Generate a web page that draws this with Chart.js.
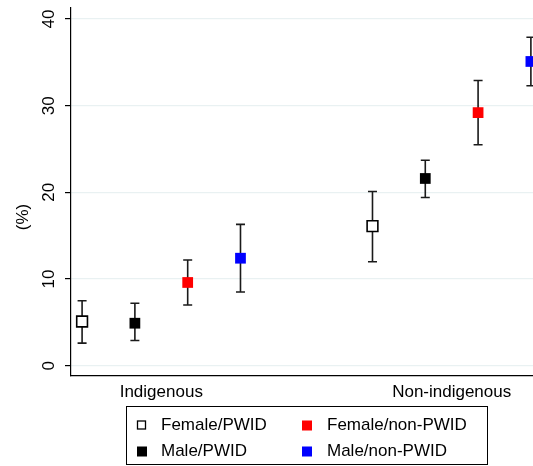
<!DOCTYPE html>
<html>
<head>
<meta charset="utf-8">
<script src="https://cdn.jsdelivr.net/npm/chart.js@4.4.1/dist/chart.umd.min.js"></script>
<style>
  body { margin: 0; background: #fff; }
  canvas { display: block; }
</style>
</head>
<body>
<canvas id="chart" width="533" height="466"></canvas>
<script>
// Data
const categories = ['Indigenous', 'Non-indigenous'];
const seriesNames = ['Female/PWID', 'Male/PWID', 'Female/non-PWID', 'Male/non-PWID'];

const femalePwid    = [5.1, 16.1];
const femalePwidLo  = [2.6, 12.0];
const femalePwidHi  = [7.5, 20.1];

const malePwid      = [4.9, 21.6];
const malePwidLo    = [2.9, 19.4];
const malePwidHi    = [7.2, 23.7];

const femaleNon     = [9.6, 29.2];
const femaleNonLo   = [7.0, 25.5];
const femaleNonHi   = [12.2, 32.9];

const maleNon       = [12.4, 35.1];
const maleNonLo     = [8.5, 32.3];
const maleNonHi     = [16.3, 37.9];

const yTicks = [0, 10, 20, 30, 40];

const values = [femalePwid, malePwid, femaleNon, maleNon];
const lows   = [femalePwidLo, malePwidLo, femaleNonLo, maleNonLo];
const highs  = [femalePwidHi, malePwidHi, femaleNonHi, maleNonHi];

// styles
const fills   = ['#ffffff', '#000000', '#ff0000', '#0000ff'];
const borders = ['#000000', '#000000', '#ff0000', '#0000ff'];
const FONT = '"Liberation Sans", Arial, sans-serif';

// x position: groups of 4, gap between the two groups
function xPos(ci, si) { return 1 + ci * 5.5 + si; }
const groupCenter = categories.map((c, ci) => (xPos(ci, 0) + xPos(ci, 3)) / 2);

const datasets = seriesNames.map((name, si) => ({
  label: name,
  data: categories.map((c, ci) => ({ x: xPos(ci, si), y: values[si][ci], lo: lows[si][ci], hi: highs[si][ci] })),
  pointStyle: 'rect',
  pointRadius: 7.6,
  pointHoverRadius: 7.6,
  backgroundColor: fills[si],
  borderColor: borders[si],
  borderWidth: si === 0 ? 1.6 : 0,
  clip: false
}));

const errorBars = {
  id: 'errorBars',
  beforeDatasetsDraw(chart) {
    const { ctx, scales: { x, y } } = chart;
    ctx.save();
    ctx.strokeStyle = '#1a1a1a';
    ctx.lineWidth = 1.6;
    chart.data.datasets.forEach(ds => {
      ds.data.forEach(p => {
        const px = x.getPixelForValue(p.x);
        const top = y.getPixelForValue(p.hi);
        const bot = y.getPixelForValue(p.lo);
        ctx.beginPath();
        ctx.moveTo(px, top); ctx.lineTo(px, bot);
        ctx.moveTo(px - 4.5, top); ctx.lineTo(px + 4.5, top);
        ctx.moveTo(px - 4.5, bot); ctx.lineTo(px + 4.5, bot);
        ctx.stroke();
      });
    });
    ctx.restore();
  },
  afterDraw(chart) {
    const { ctx, scales: { y } } = chart;
    ctx.save();
    ctx.fillStyle = '#000';
    ctx.font = '17px ' + FONT;
    ctx.textAlign = 'center';
    ctx.textBaseline = 'middle';
    // rotated y tick labels
    yTicks.forEach(v => {
      ctx.save();
      ctx.translate(49, y.getPixelForValue(v));
      ctx.rotate(-Math.PI / 2);
      ctx.fillText(String(v), 0, 0);
      ctx.restore();
    });
    // y title
    ctx.save();
    ctx.translate(23, 217);
    ctx.rotate(-Math.PI / 2);
    ctx.fillText('(%)', 0, 0);
    ctx.restore();

    // legend box
    ctx.strokeStyle = '#000';
    ctx.lineWidth = 1;
    ctx.strokeRect(126.5, 406.5, 361, 58);
    ctx.textAlign = 'left';
    seriesNames.forEach((name, si) => {
      const col = Math.floor(si / 2), row = si % 2;
      const mx = col === 0 ? 137 : 302;
      const tx = col === 0 ? 161 : 327;
      const cy = row === 0 ? 425 : 451;
      if (si === 0) {
        ctx.fillStyle = '#fff';
        ctx.fillRect(mx, cy - 4.5, 9, 9);
        ctx.lineWidth = 1.3;
        ctx.strokeRect(mx + 0.5, cy - 4, 8, 8);
      } else {
        ctx.fillStyle = fills[si];
        ctx.fillRect(mx, cy - 4.5, 10, 10);
      }
      ctx.fillStyle = '#000';
      ctx.fillText(name, tx, cy);
    });
    ctx.restore();
  }
};

new Chart(document.getElementById('chart'), {
  type: 'scatter',
  data: { datasets },
  options: {
    responsive: false,
    animation: false,
    layout: { autoPadding: false, padding: { top: 8, bottom: 60, left: 0, right: 0 } },
    plugins: { legend: { display: false }, tooltip: { enabled: false } },
    scales: {
      x: {
        type: 'linear',
        min: 0.79,
        max: 9.54,
        afterBuildTicks: s => { s.ticks = groupCenter.map(v => ({ value: v })); },
        afterFit: s => { s.height = 30; },
        ticks: {
          autoSkip: false,
          maxRotation: 0,
          padding: 6,
          color: '#000',
          font: { family: FONT, size: 17 },
          callback: (v, i) => categories[i]
        },
        grid: { display: false, drawTicks: false },
        border: { display: true, color: '#000', width: 1.2 }
      },
      y: {
        min: -1.19,
        max: 41.27,
        afterBuildTicks: s => { s.ticks = yTicks.map(v => ({ value: v })); },
        afterFit: s => { s.width = 71; },
        ticks: { display: false },
        grid: { color: '#e9f1f2', lineWidth: 1.2, tickLength: 6, tickColor: '#000', drawTicks: true },
        border: { display: true, color: '#000', width: 1.2 }
      }
    }
  },
  plugins: [errorBars]
});
</script>
</body>
</html>
